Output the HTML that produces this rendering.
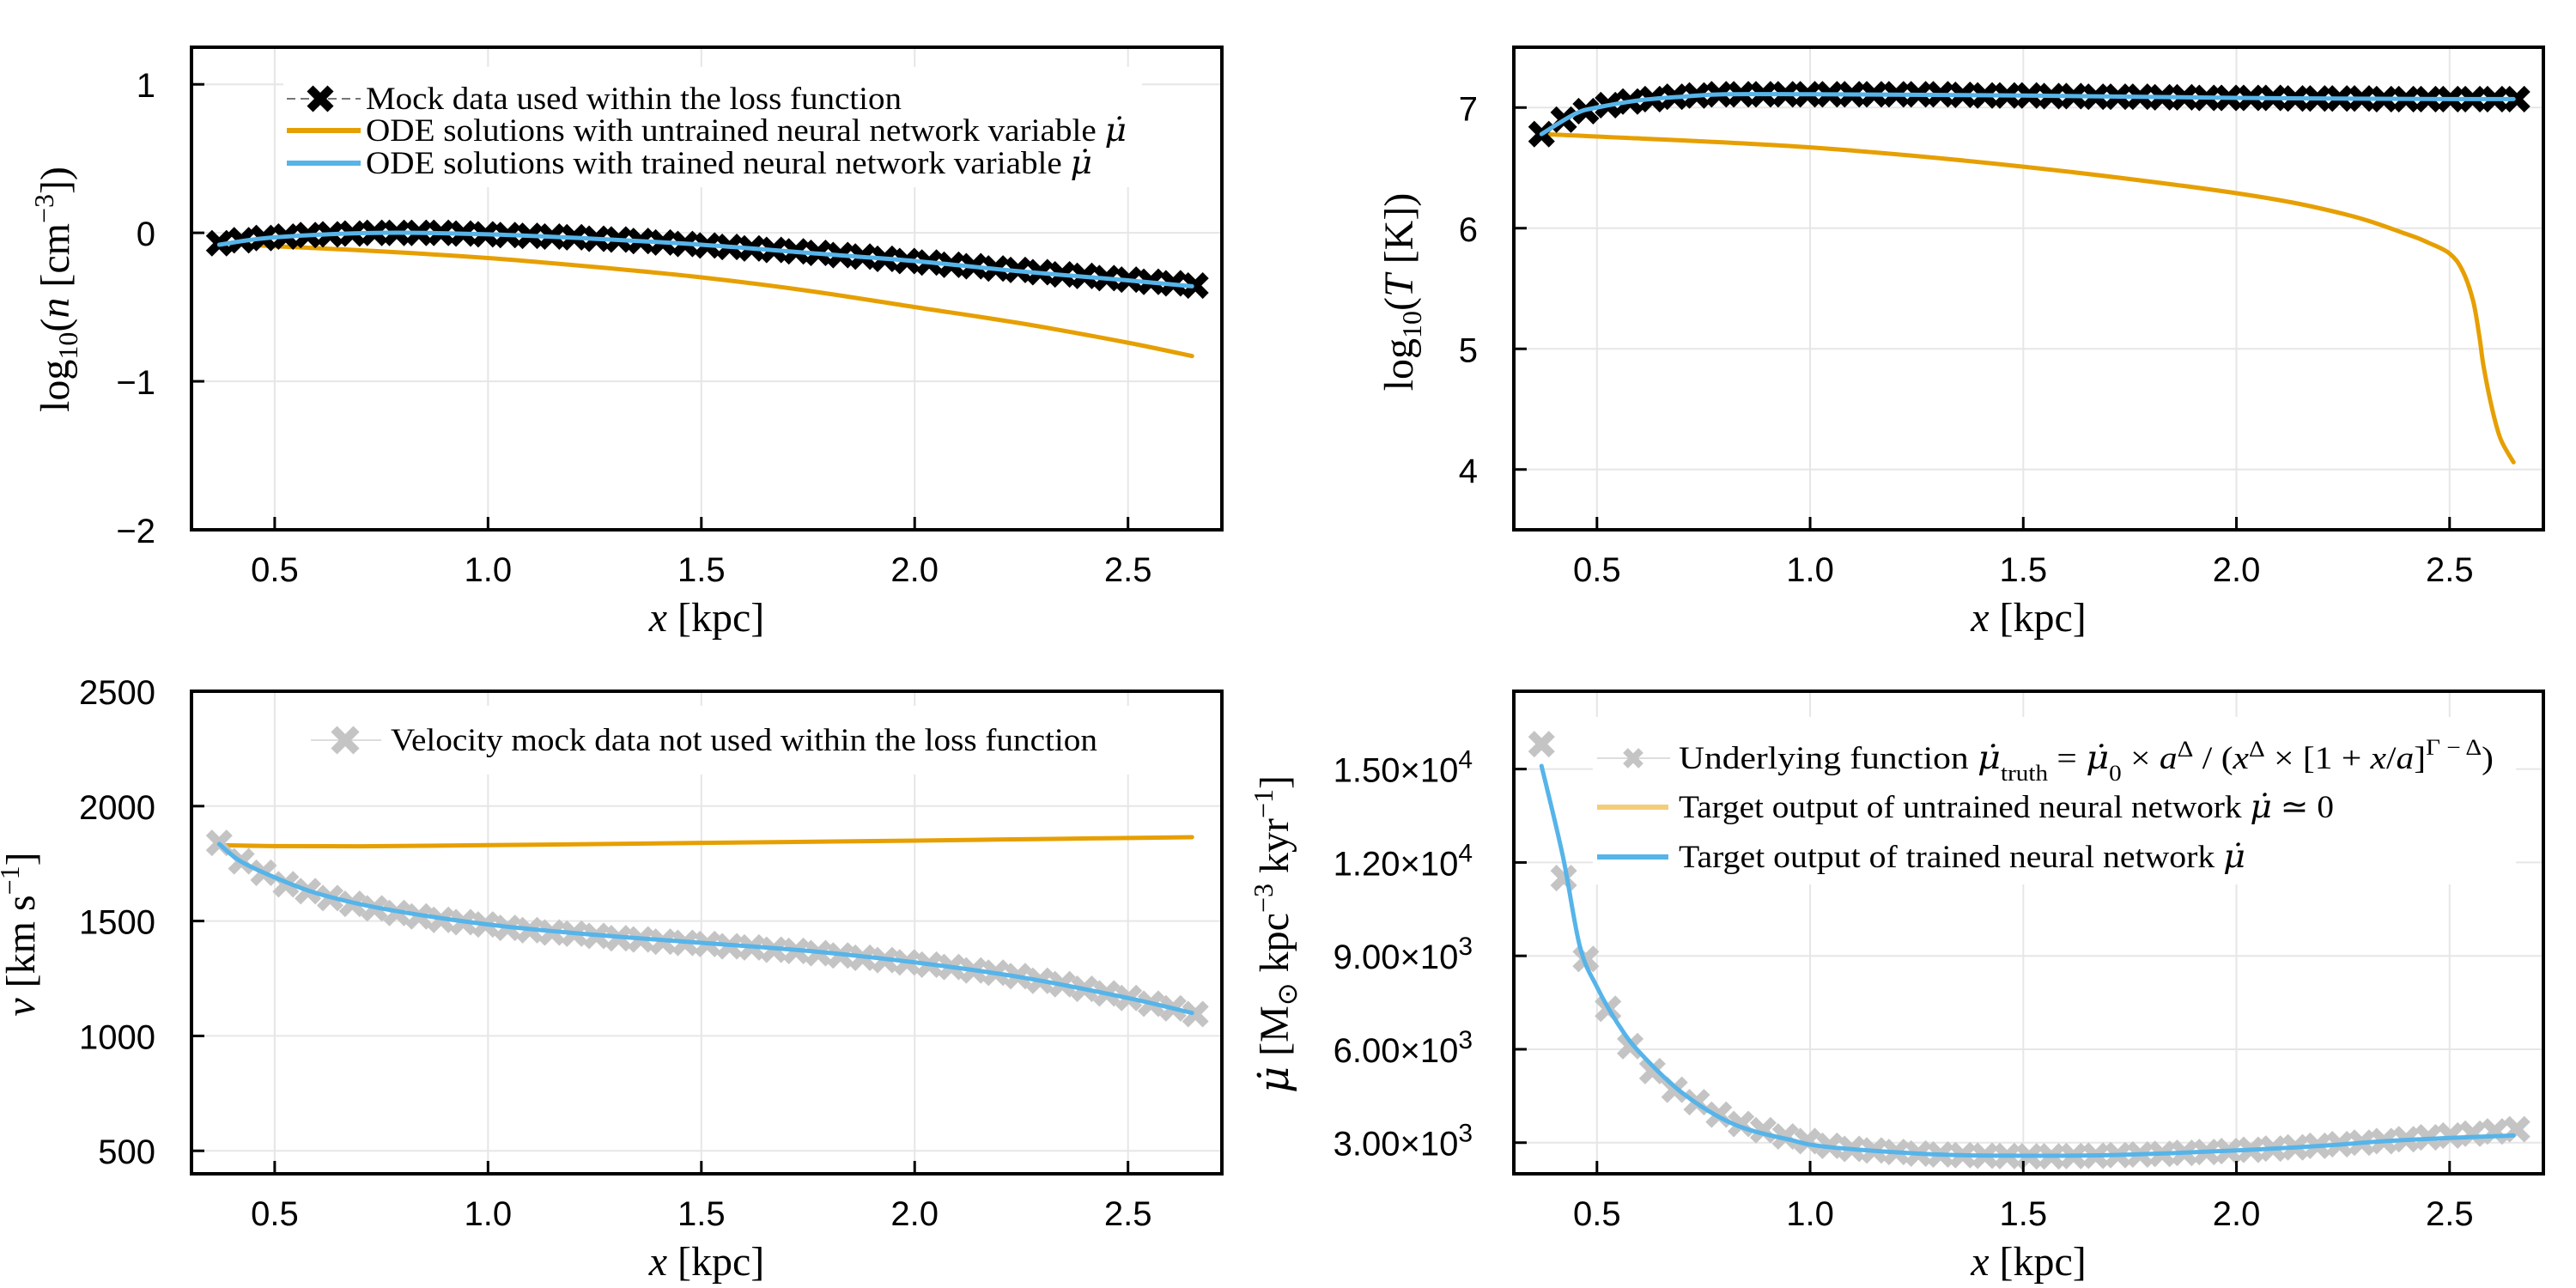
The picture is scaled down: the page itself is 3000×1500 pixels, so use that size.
<!DOCTYPE html>
<html><head><meta charset="utf-8">
<style>
html,body{margin:0;padding:0;background:#fff;}
svg{display:block;}
.tick{font-family:"Liberation Sans",sans-serif;font-size:40px;fill:#000;}
.lab{font-family:"Liberation Serif",serif;font-size:48px;fill:#000;}
.leg{font-family:"Liberation Serif",serif;font-size:37px;fill:#000;}
.mu{font-family:"DejaVu Serif",serif;font-style:italic;}
</style></head>
<body>
<svg id="fig" width="3000" height="1500" viewBox="0 0 3000 1500" xmlns="http://www.w3.org/2000/svg">
<rect width="3000" height="1500" fill="#fff"/>
</svg>
<script>
// shared x categories (kpc)
const mockX = [0.370,0.422,0.474,0.526,0.578,0.630,0.682,0.734,0.786,0.838,0.890,0.942,0.994,1.046,1.098,1.150,1.202,1.254,1.306,1.358,1.410,1.462,1.514,1.566,1.618,1.670,1.722,1.774,1.826,1.878,1.930,1.982,2.034,2.086,2.138,2.190,2.242,2.294,2.346,2.398,2.450,2.502,2.554,2.606,2.658];
// density panel
const nMock = [-0.07,-0.05,-0.035,-0.025,-0.015,-0.01,-0.005,0,0,0,0,-0.005,-0.01,-0.015,-0.02,-0.025,-0.03,-0.04,-0.045,-0.055,-0.065,-0.075,-0.085,-0.095,-0.105,-0.115,-0.125,-0.135,-0.15,-0.16,-0.175,-0.19,-0.2,-0.215,-0.225,-0.24,-0.25,-0.265,-0.28,-0.29,-0.305,-0.315,-0.33,-0.34,-0.355];
const nLineX = [0.37,0.5,0.75,1.0,1.25,1.5,1.75,2.0,2.25,2.5,2.65];
const nUntrained = [-0.07,-0.09,-0.125,-0.17,-0.23,-0.30,-0.39,-0.50,-0.61,-0.74,-0.83];
const nTrained = [-0.08,-0.03,0.0,-0.01,-0.04,-0.08,-0.135,-0.19,-0.26,-0.32,-0.36];
// temperature panel
const tMock = [6.78,6.9,6.97,7.02,7.05,7.07,7.09,7.10,7.11,7.11,7.11,7.11,7.11,7.11,7.11,7.11,7.11,7.11,7.11,7.105,7.10,7.10,7.10,7.095,7.095,7.09,7.09,7.09,7.085,7.085,7.08,7.08,7.08,7.08,7.075,7.075,7.075,7.075,7.07,7.07,7.07,7.07,7.07,7.07,7.07];
const tLineX = [0.37,0.5,1.0,1.5,2.0,2.25,2.4,2.45,2.5,2.53,2.555,2.57,2.58,2.6,2.62,2.65];
const tUntrained = [6.78,6.76,6.67,6.51,6.29,6.12,5.95,5.88,5.79,5.65,5.4,5.1,4.85,4.5,4.25,4.06];
const tTrainedX = [0.37,0.45,0.5,0.6,0.7,0.8,1.0,1.5,2.0,2.5,2.65];
const tTrained = [6.78,6.95,7.0,7.06,7.09,7.11,7.11,7.10,7.08,7.07,7.07];
// velocity panel
const vMock = [1840,1760,1710,1660,1630,1600,1575,1555,1535,1520,1505,1495,1485,1470,1460,1450,1445,1435,1425,1420,1410,1405,1400,1390,1385,1375,1370,1360,1350,1340,1330,1320,1310,1300,1285,1275,1260,1240,1225,1205,1185,1165,1140,1120,1095];
const vLineX = [0.37,0.5,0.7,1.0,1.5,2.0,2.3,2.65];
const vUntrained = [1830,1826,1825,1830,1840,1850,1857,1865];
const vTrainedX = [0.37,0.42,0.5,0.6,0.75,1.0,1.25,1.5,1.75,2.0,2.25,2.5,2.65];
const vTrained = [1835,1760,1690,1620,1555,1485,1440,1405,1370,1320,1255,1165,1100];
// mass-loading panel
const muMock = [15800,11500,8900,7300,6100,5300,4700,4300,3900,3600,3400,3200,3050,2900,2800,2750,2700,2650,2620,2600,2580,2570,2560,2560,2570,2580,2600,2620,2640,2670,2700,2730,2770,2810,2850,2900,2950,3000,3050,3110,3170,3230,3290,3360,3430];
const muLineX = [0.37,0.42,0.46,0.5,0.55,0.6,0.7,0.82,0.95,1.05,1.3,1.5,1.7,2.0,2.2,2.35,2.5,2.65];
const muTrained = [15100,12200,9300,8000,6800,5900,4600,3600,3100,2850,2620,2580,2600,2750,2900,3050,3150,3230];
const ticksX = [0.5,1.0,1.5,2.0,2.5];
const tickXLabels = ["0.5","1.0","1.5","2.0","2.5"];
const ticksN = [1,0,-1,-2]; const ticksNLabels = ["1","0","−1","−2"];
const ticksT = [7,6,5,4]; const ticksTLabels = ["7","6","5","4"];
const ticksV = [2500,2000,1500,1000,500]; const ticksVLabels = ["2500","2000","1500","1000","500"];
const ticksMu = [15000,12000,9000,6000,3000]; const ticksMuMant = ["1.50×10","1.20×10","9.00×10","6.00×10","3.00×10"]; const ticksMuExp = ["4","4","3","3","3"];

const NS="http://www.w3.org/2000/svg";
const svg=document.getElementById('fig');
function mk(tag,attrs,parent){const e=document.createElementNS(NS,tag);for(const k in attrs)e.setAttribute(k,attrs[k]);(parent||svg).appendChild(e);return e;}
const ORANGE="#E69F00", BLUE="#56B4E9", GRAY="#c4c4c4";
const MU='<tspan class="mu">μ̇</tspan>';

function makePanel(name,px0,px1,py0,py1,xmin,xmax,ymin,ymax){
  const g=mk('g',{});
  
  
  return {g,px0,px1,py0,py1,
    sx:v=>px0+(v-xmin)/(xmax-xmin)*(px1-px0),
    sy:v=>py1-(v-ymin)/(ymax-ymin)*(py1-py0)};
}
function gridAndAxes(p,yt){
  ticksX.forEach((t,i)=>{
    const x=p.sx(t);
    const gl=mk('line',{x1:x,x2:x,y1:p.py0,y2:p.py1,stroke:'#e6e6e6','stroke-width':2},p.g);
    
    
  });
  yt.forEach((t,i)=>{
    const y=p.sy(t);
    const gl=mk('line',{x1:p.px0,x2:p.px1,y1:y,y2:y,stroke:'#e6e6e6','stroke-width':2},p.g);
    
    
  });
}
function frame(p,yt,ytl,expArr){
  mk('rect',{x:p.px0,y:p.py0,width:p.px1-p.px0,height:p.py1-p.py0,fill:'none',stroke:'#000','stroke-width':4},p.g);
  ticksX.forEach((t,i)=>{
    const x=p.sx(t);
    mk('line',{x1:x,x2:x,y1:p.py1,y2:p.py1-15,stroke:'#000','stroke-width':3},p.g);
    const tx=mk('text',{x:x,y:p.py1+60,'text-anchor':'middle',class:'tick'},p.g);
    tx.textContent=tickXLabels[i];
    
    
  });
  yt.forEach((t,i)=>{
    const y=p.sy(t);
    mk('line',{x1:p.px0,x2:p.px0+15,y1:y,y2:y,stroke:'#000','stroke-width':3},p.g);
    const tx=mk('text',{x:p.px0-(expArr?48:42),y:y+15,'text-anchor':'end',class:'tick'},p.g);
    tx.textContent=ytl[i];
    if(expArr){const s=mk('tspan',{dy:-16,'font-size':30},tx);s.textContent=expArr[i];}
    
    
  });
  const xl=mk('text',{x:(p.px0+p.px1)/2,y:p.py1+118,'text-anchor':'middle',class:'lab'},p.g);
  xl.innerHTML='<tspan font-style="italic">x</tspan> [kpc]';
  
  
}
function smoothPath(p,xs,ys){
  const pts=xs.map((x,i)=>[p.sx(x),p.sy(ys[i])]);
  let d='M'+pts[0][0]+','+pts[0][1];
  for(let i=0;i<pts.length-1;i++){
    const p0=pts[Math.max(0,i-1)],p1=pts[i],p2=pts[i+1],p3=pts[Math.min(pts.length-1,i+2)];
    const c1=[p1[0]+(p2[0]-p0[0])/6,p1[1]+(p2[1]-p0[1])/6];
    const c2=[p2[0]-(p3[0]-p1[0])/6,p2[1]-(p3[1]-p1[1])/6];
    d+=' C'+c1[0]+','+c1[1]+' '+c2[0]+','+c2[1]+' '+p2[0]+','+p2[1];
  }
  return d;
}
function line(p,xs,ys,color,w,name){
  const e=mk('path',{d:smoothPath(p,xs,ys),fill:'none',stroke:color,'stroke-width':w,'stroke-linejoin':'round','stroke-linecap':'round'},p.g);
  
  
}
function cross(parent,cx,cy,s,color,w){
  const g=mk('g',{stroke:color,'stroke-width':w,'stroke-linecap':'butt'},parent);
  mk('line',{x1:cx-s,y1:cy-s,x2:cx+s,y2:cy+s},g);
  mk('line',{x1:cx-s,y1:cy+s,x2:cx+s,y2:cy-s},g);
  return g;
}
function markers(p,xs,ys,color){
  xs.forEach((x,i)=>{
    const m=cross(p.g,p.sx(x),p.sy(ys[i]),12,color,10);
    
    
  });
}
function yTitle(p,cx,cy,html){
  const t=mk('text',{x:cx,y:cy,'text-anchor':'middle',class:'lab',transform:'rotate(-90 '+cx+' '+cy+')'},p.g);
  t.innerHTML=html;
  
  
}
function legendBox(p,x,y,w,h){
  const r=mk('rect',{x:x,y:y,width:w,height:h,fill:'#fff'},p.g);
  
  
}
function legText(p,x,y,len,html,name){
  const t=mk('text',{x:x,y:y+12,class:'leg',textLength:len,lengthAdjust:'spacingAndGlyphs'},p.g);
  t.innerHTML=html;
  
  
}
function legLine(p,x1,x2,y,color,name){
  const l=mk('line',{x1:x1,x2:x2,y1:y,y2:y,stroke:color,'stroke-width':6},p.g);
  
  
}

// ---------- Panel 1: density ----------
const p1=makePanel('density-panel',223,1423,55,617,0.305,2.72,-2,1.25);
gridAndAxes(p1,ticksN);
legendBox(p1,330,78,1000,140);
mk('line',{x1:334,x2:420,y1:115,y2:115,stroke:'#777','stroke-width':2,'stroke-dasharray':'10 6'},p1.g);
cross(p1.g,373,115,12,'#000',10);
legText(p1,426,115,624,'Mock data used within the loss function','legend-entry-mock');
legLine(p1,334,420,152,ORANGE,'legend-line-untrained');
legText(p1,426,152,886,'ODE solutions with untrained neural network variable '+MU,'legend-entry-untrained');
legLine(p1,334,420,190,BLUE,'legend-line-trained');
legText(p1,426,190,846,'ODE solutions with trained neural network variable '+MU,'legend-entry-trained');
line(p1,nLineX,nUntrained,ORANGE,5,'untrained-density-line');
markers(p1,mockX,nMock,'#000');
line(p1,nLineX,nTrained,BLUE,5,'trained-density-line');
frame(p1,ticksN,ticksNLabels);
yTitle(p1,80,337,'log<tspan font-size="32" dy="10">10</tspan><tspan dy="-10">(</tspan><tspan font-style="italic">n</tspan> [cm<tspan font-size="32" dy="-18">−3</tspan><tspan dy="18">])</tspan>');

// ---------- Panel 2: temperature ----------
const p2=makePanel('temperature-panel',1763,2962,55,617,0.305,2.72,3.5,7.5);
gridAndAxes(p2,ticksT);
line(p2,tLineX,tUntrained,ORANGE,5,'untrained-temperature-line');
markers(p2,mockX,tMock,'#000');
line(p2,tTrainedX,tTrained,BLUE,5,'trained-temperature-line');
frame(p2,ticksT,ticksTLabels);
yTitle(p2,1645,340,'log<tspan font-size="32" dy="10">10</tspan><tspan dy="-10">(</tspan><tspan font-style="italic">T</tspan> [K])');

// ---------- Panel 3: velocity ----------
const p3=makePanel('velocity-panel',223,1423,805,1367,0.305,2.72,400,2500);
gridAndAxes(p3,ticksV);
legendBox(p3,360,822,975,80);
mk('line',{x1:362,x2:444,y1:862,y2:862,stroke:'#ddd','stroke-width':2},p3.g);
cross(p3.g,402,862,13,GRAY,10);
legText(p3,455,862,823,'Velocity mock data not used within the loss function','legend-entry-velocity');
line(p3,vLineX,vUntrained,ORANGE,5,'untrained-velocity-line');
markers(p3,mockX,vMock,GRAY);
line(p3,vTrainedX,vTrained,BLUE,5,'trained-velocity-line');
frame(p3,ticksV,ticksVLabels);
yTitle(p3,40,1088,'<tspan font-style="italic">v</tspan> [km s<tspan font-size="32" dy="-18">−1</tspan><tspan dy="18">]</tspan>');

// ---------- Panel 4: mass loading ----------
const p4=makePanel('mu-dot-panel',1763,2962,805,1367,0.305,2.72,2000,17500);
gridAndAxes(p4,ticksMu);
legendBox(p4,1855,835,1075,195);
mk('line',{x1:1860,x2:1945,y1:883,y2:883,stroke:'#ddd','stroke-width':2},p4.g);
cross(p4.g,1902,883,9,GRAY,8);
legText(p4,1955,883,949,'Underlying function '+MU+'<tspan font-size="26" dy="14">truth</tspan><tspan dy="-14"> = </tspan>'+MU+'<tspan font-size="26" dy="14">0</tspan><tspan dy="-14"> × </tspan><tspan font-style="italic">a</tspan><tspan font-size="26" dy="-14">Δ</tspan><tspan dy="14"> / (</tspan><tspan font-style="italic">x</tspan><tspan font-size="26" dy="-14">Δ</tspan><tspan dy="14"> × [1 + </tspan><tspan font-style="italic">x</tspan>/<tspan font-style="italic">a</tspan>]<tspan font-size="26" dy="-16">Γ − Δ</tspan><tspan dy="16">)</tspan>','legend-entry-truth');
legLine(p4,1860,1943,940,'#f3cd7a','legend-line-untrained-target');
legText(p4,1955,940,763,'Target output of untrained neural network '+MU+' ≃ 0','legend-entry-untrained-target');
legLine(p4,1860,1943,998,BLUE,'legend-line-trained-target');
legText(p4,1955,998,660,'Target output of trained neural network '+MU,'legend-entry-trained-target');
markers(p4,mockX,muMock,GRAY);
line(p4,muLineX,muTrained,BLUE,5,'trained-mu-dot-line');
frame(p4,ticksMu,ticksMuMant,ticksMuExp);
yTitle(p4,1500,1088,MU+' [M<tspan font-size="32" dy="10">⊙</tspan><tspan dy="-10"> kpc</tspan><tspan font-size="32" dy="-18">−3</tspan><tspan dy="18"> kyr</tspan><tspan font-size="32" dy="-18">−1</tspan><tspan dy="18">]</tspan>');
</script>
</body></html>
